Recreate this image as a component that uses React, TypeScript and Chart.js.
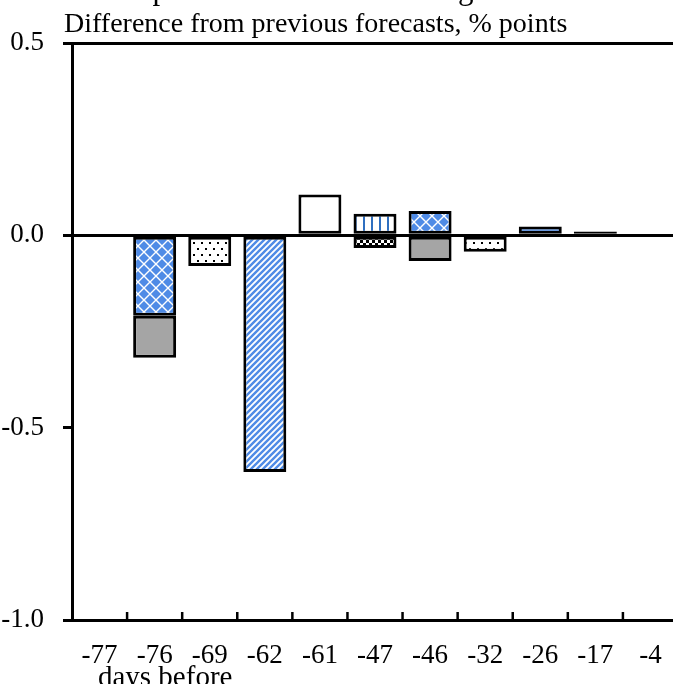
import React, { useEffect, useRef } from 'react';
import { Chart, registerables } from 'chart.js';

Chart.register(...registerables);

const FONT = '"Liberation Serif", "Times New Roman", Times, serif';

const categories = ['-77', '-76', '-69', '-62', '-61', '-47', '-46', '-32', '-26', '-17', '-4'];

const crossBlue = [null, -0.209, null, null, null, null, 0.063, null, null, null, null];
const graySolid = [null, -0.109, null, null, null, null, -0.067, null, null, null, null];
const dotted = [null, null, -0.08, null, null, null, null, -0.043, null, null, null];
const diagStripes = [null, null, null, -0.615, null, null, null, null, null, null, null];
const whiteBar = [null, null, null, null, 0.106, null, null, null, null, null, null];
const vLines = [null, null, null, null, null, 0.056, null, null, null, null, null];
const checker = [null, null, null, null, null, -0.033, null, null, null, null, null];
const solidBlue = [null, null, null, null, null, null, null, null, 0.023, null, null];
const blackBar = [null, null, null, null, null, null, null, null, null, 0.01, null];

const yMin = -1.0;
const yMax = 0.5;
const yStep = 0.5;

const titleText = 'Decomposition of forecast changes';
const subtitleText = 'Difference from previous forecasts, % points';
const xAxisTitle = 'days before';

const BLUE = '#4F8BE6';
const GRAY = '#A5A5A5';

function makePattern(w: number, h: number, draw: (c: CanvasRenderingContext2D) => void): CanvasPattern | string {
  const cv = document.createElement('canvas');
  cv.width = w;
  cv.height = h;
  const c = cv.getContext('2d');
  if (!c) return '#fff';
  draw(c);
  const p = c.createPattern(cv, 'repeat');
  return p || '#fff';
}

const annotations = {
  id: 'annotations',
  afterDatasetsDraw(chart: any) {
    const { ctx, chartArea, scales } = chart;
    const x = scales.x;
    ctx.save();
    ctx.strokeStyle = '#000';
    ctx.lineWidth = 2.5;
    for (let i = 1; i < categories.length; i++) {
      const px = (x.getPixelForValue(i - 1) + x.getPixelForValue(i)) / 2;
      ctx.beginPath();
      ctx.moveTo(px, chartArea.bottom);
      ctx.lineTo(px, chartArea.bottom - 8);
      ctx.stroke();
    }
    ctx.restore();
  },
  afterDraw(chart: any) {
    const { ctx, chartArea } = chart;
    ctx.save();
    ctx.fillStyle = '#000';
    ctx.textAlign = 'left';
    ctx.textBaseline = 'alphabetic';
    ctx.font = `31px ${FONT}`;
    ctx.fillText(titleText, chartArea.left - 9, -1);
    ctx.font = `28px ${FONT}`;
    ctx.fillText(subtitleText, chartArea.left - 8, 32);
    ctx.font = `29px ${FONT}`;
    ctx.textAlign = 'center';
    const x = chart.scales.x;
    const cx = (x.getPixelForValue(1) + x.getPixelForValue(2)) / 2;
    ctx.fillText(xAxisTitle, cx - 17, 686);
    ctx.restore();
  },
};

export default function App() {
  const ref = useRef<HTMLCanvasElement | null>(null);

  useEffect(() => {
    const canvas = ref.current;
    if (!canvas) return;

    const crossPat = makePattern(12, 12, (c) => {
      c.fillStyle = BLUE;
      c.fillRect(0, 0, 12, 12);
      c.strokeStyle = '#fff';
      c.lineWidth = 1.4;
      c.beginPath();
      c.moveTo(0, 0); c.lineTo(12, 12);
      c.moveTo(12, 0); c.lineTo(0, 12);
      c.stroke();
    });
    const dotPat = makePattern(8, 12, (c) => {
      c.fillStyle = '#fff';
      c.fillRect(0, 0, 8, 12);
      c.fillStyle = '#000';
      c.fillRect(1, 2, 2, 2);
      c.fillRect(5, 8, 2, 2);
    });
    const stripePat = makePattern(6, 6, (c) => {
      c.fillStyle = '#fff';
      c.fillRect(0, 0, 6, 6);
      c.strokeStyle = BLUE;
      c.lineWidth = 2.4;
      c.beginPath();
      c.moveTo(-1, 7); c.lineTo(7, -1);
      c.moveTo(-4, 4); c.lineTo(4, -4);
      c.moveTo(2, 10); c.lineTo(10, 2);
      c.stroke();
    });
    const vPat = makePattern(8, 4, (c) => {
      c.fillStyle = '#fff';
      c.fillRect(0, 0, 8, 4);
      c.fillStyle = '#2F6FC0';
      c.fillRect(3, 0, 2, 4);
    });
    const checkPat = makePattern(6, 6, (c) => {
      c.fillStyle = '#fff';
      c.fillRect(0, 0, 6, 6);
      c.fillStyle = '#000';
      c.fillRect(0, 0, 3, 3);
      c.fillRect(3, 3, 3, 3);
    });

    const mk = (label: string, data: (number | null)[], bg: any) => ({
      label,
      data,
      backgroundColor: bg,
      borderColor: '#000',
      borderWidth: 3,
      borderSkipped: false,
      stack: 's',
      barPercentage: 0.78,
      categoryPercentage: 1.0,
    });

    const chart = new Chart(canvas, {
      type: 'bar',
      data: {
        labels: categories,
        datasets: [
          mk('crossBlue', crossBlue, crossPat),
          mk('gray', graySolid, GRAY),
          mk('dotted', dotted, dotPat),
          mk('stripes', diagStripes, stripePat),
          mk('white', whiteBar, '#fff'),
          mk('vlines', vLines, vPat),
          mk('checker', checker, checkPat),
          mk('solidBlue', solidBlue, BLUE),
          mk('black', blackBar, '#000'),
        ] as any,
      },
      options: {
        animation: false,
        responsive: false,
        maintainAspectRatio: false,
        devicePixelRatio: 1,
        layout: { padding: { top: 43, right: 22, left: 0, bottom: 0 } },
        plugins: {
          legend: { display: false },
          tooltip: { enabled: false },
          title: { display: false },
        },
        scales: {
          x: {
            type: 'category',
            stacked: true,
            offset: true,
            grid: { display: true, color: 'rgba(0,0,0,0)', drawTicks: false },
            border: { display: true, color: '#000', width: 3 },
            ticks: {
              color: '#000',
              font: { family: FONT, size: 27 },
              padding: 20,
              maxRotation: 0,
              autoSkip: false,
            },
            afterFit: (scale: any) => {
              scale.height = 64;
            },
          },
          y: {
            type: 'linear',
            stacked: true,
            min: yMin,
            max: yMax,
            grid: {
              color: (ctx: any) =>
                ctx.tick && (ctx.tick.value === 0 || ctx.tick.value === 0.5) ? '#000' : 'rgba(0,0,0,0)',
              tickColor: '#000',
              tickLength: 9,
              lineWidth: 3,
            },
            border: { display: true, color: '#000', width: 3 },
            ticks: {
              stepSize: yStep,
              color: '#000',
              font: { family: FONT, size: 27 },
              padding: 19,
              callback: (v: any) => Number(v).toFixed(1),
            },
            afterFit: (scale: any) => {
              scale.width = 72;
            },
          },
        },
      } as any,
      plugins: [annotations],
    });

    return () => chart.destroy();
  }, []);

  return (
    <div style={{ position: 'fixed', left: 0, top: 0, width: 673, height: 684, overflow: 'hidden', background: '#fff' }}>
      <canvas ref={ref} width={700} height={684} style={{ width: 700, height: 684, display: 'block' }} />
    </div>
  );
}
